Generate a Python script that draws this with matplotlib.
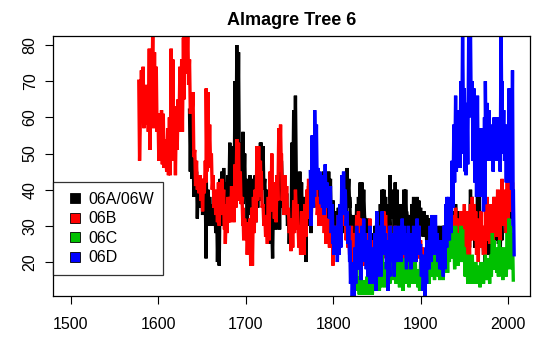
import numpy as np
import matplotlib
matplotlib.use("Agg")
import matplotlib.pyplot as plt
from matplotlib.lines import Line2D

plt.rcParams['font.family'] = ['Liberation Sans', 'DejaVu Sans']

# (year, high, low), ~2 year steps
s06a = [(1636,62,45),(1638,65,43),(1640,55,38),(1642,47,38),(1644,45,32),(1646,43,35),(1648,40,35),
        (1650,42,33),(1652,40,36),(1654,39,21),(1655,46,30),(1657,40,30),(1659,38,33),(1661,36,30),
        (1663,34,32),(1665,38,28),(1667,36,20),(1669,35,19),(1671,43,30),(1673,45,33),(1675,46,39),
        (1676,39,35),(1678,42,31),(1680,44,36),(1682,53,34),(1684,52,40),(1686,52,37),(1688,70,36),
        (1690,80,48),(1692,78,45),(1694,53,40),(1696,48,36),(1697,56,40),(1699,50,38),(1701,41,30),
        (1703,43,35),(1705,44,33),(1707,40,30),(1709,43,30),(1711,44,31),(1713,42,35),(1715,45,37),
        (1717,53,45),(1718,53,42),(1720,52,40),(1722,43,33),(1724,40,30),(1726,37,28),(1728,34,25),
        (1730,30,21),(1732,40,32),(1734,41,29),(1736,44,30),(1738,40,29),(1740,45,35),(1741,48,41),
        (1743,43,35),(1745,40,33),(1747,39,30),(1749,33,25),(1751,32,24),(1753,53,36),(1755,62,40),
        (1757,66,45),(1759,44,34),(1760,38,30),(1762,45,31),(1764,42,30),(1766,36,27),(1768,38,20),
        (1770,38,30),(1772,41,32),(1774,35,28),(1776,45,35),(1778,48,38),(1779,50,38),(1781,44,35),
        (1783,40,30),(1785,42,33),(1787,42,35),(1789,45,36),(1791,44,32),(1793,40,30),(1795,45,30),
        (1797,43,28),(1799,35,25),(1800,37,30),(1802,34,26),(1804,30,24),(1806,35,26),(1808,33,27),
        (1810,36,28),(1812,40,30),(1814,42,32),(1816,46,38),(1818,43,35),(1819,38,30),(1821,33,24),
        (1823,30,24),(1825,33,26),(1827,36,28),(1829,38,33),(1831,42,30),(1833,42,32),(1835,40,33),
        (1837,30,22),(1839,32,25),(1841,30,22),(1842,28,20),(1844,26,19),(1846,28,20),(1848,30,20),
        (1850,34,22),(1852,30,20),(1854,36,26),(1856,40,30),(1858,40,28),(1860,38,30),(1862,35,28),
        (1864,36,30),(1865,44,33),(1867,40,32),(1869,38,28),(1871,42,32),(1873,40,30),(1875,36,28),
        (1877,36,26),(1879,34,28),(1881,40,30),(1883,40,32),(1884,34,28),(1886,33,27),(1888,30,25),
        (1890,36,28),(1892,38,30),(1894,34,28),(1896,38,30),(1898,37,30),(1900,35,28),(1902,33,27),
        (1904,34,28),(1906,32,26),(1907,33,27),(1909,32,26),(1911,32,25),(1913,30,24),(1915,32,25),
        (1917,30,24),(1919,28,22),(1921,30,24),(1923,28,23),(1925,30,24),(1927,30,22),(1929,28,22),
        (1930,30,24),(1932,30,25),(1934,34,26),(1936,34,26),(1938,32,24),(1940,36,26),(1942,34,26),
        (1944,30,24),(1946,30,24),(1948,31,23),(1950,30,22),(1951,29,22),(1953,28,22),(1955,30,24),
        (1957,40,30),(1959,38,28),(1961,34,24),(1963,32,24),(1965,40,28),(1967,38,27),(1969,30,24),
        (1971,28,22),(1973,26,20),(1974,30,22),(1976,33,25),(1978,30,22),(1980,32,25),(1982,36,28),
        (1984,38,28),(1986,34,26),(1988,32,25),(1990,28,22),(1992,34,26),(1993,40,30),(1995,38,30),
        (1997,36,28),(1999,40,30),(2001,46,32),(2003,58,35),(2005,40,30)]

s06b = [(1578,70,48),(1581,73,62),(1583,74,57),(1584,66,60),(1586,69,58),(1588,67,56),(1590,79,51),
        (1592,78,65),(1594,85,57),(1596,78,60),(1598,74,56),(1600,61,48),(1602,61,53),(1604,62,47),
        (1606,61,46),(1607,54,47),(1609,48,45),(1611,57,44),(1613,60,44),(1615,79,53),(1617,76,48),
        (1619,59,44),(1621,63,51),(1623,65,56),(1625,74,57),(1627,76,56),(1629,82,65),(1630,85,75),
        (1632,85,72),(1634,85,69),(1636,76,61),(1638,66,61),(1640,67,49),(1642,51,41),(1644,48,40),
        (1646,43,39),(1648,44,37),(1650,43,34),(1652,43,39),(1654,48,42),(1655,68,45),(1657,67,46),
        (1659,58,48),(1661,50,40),(1663,44,35),(1665,40,33),(1667,39,31),(1669,42,30),(1671,42,33),
        (1673,43,35),(1675,40,29),(1676,36,25),(1678,35,28),(1680,38,31),(1682,38,31),(1684,41,32),
        (1686,37,31),(1688,47,35),(1690,54,37),(1692,53,38),(1694,45,36),(1696,38,30),(1697,35,26),
        (1699,32,28),(1701,31,22),(1703,29,23),(1705,32,19),(1707,35,19),(1709,38,28),(1711,40,31),
        (1713,52,37),(1715,52,40),(1717,48,38),(1718,45,35),(1720,36,30),(1722,33,27),(1724,31,25),
        (1726,38,26),(1728,45,34),(1730,50,37),(1732,42,32),(1734,40,31),(1736,44,37),(1738,57,46),
        (1740,58,45),(1741,50,37),(1743,43,33),(1745,44,35),(1747,41,33),(1749,35,28),(1751,30,23),
        (1753,32,24),(1755,37,28),(1757,40,34),(1759,36,29),(1760,30,24),(1762,30,22),(1764,34,24),
        (1766,31,22),(1768,36,27),(1770,40,32),(1772,43,36),(1774,42,30),(1776,45,35),(1778,55,40),
        (1779,50,38),(1781,42,33),(1783,36,30),(1785,38,31),(1787,37,30),(1789,36,28),(1791,35,25),
        (1793,32,26),(1795,30,24),(1797,36,25),(1799,34,19),(1800,30,22),(1802,28,22),(1804,30,22),
        (1806,33,24),(1808,36,26),(1810,40,30),(1812,38,30),(1814,34,26),(1816,30,24),(1818,29,22),
        (1819,28,20),(1821,30,20),(1823,25,18),(1825,28,20),(1827,33,24),(1829,34,26),(1831,32,24),
        (1833,30,20),(1835,27,19),(1837,26,19),(1839,28,17),(1841,26,16),(1842,32,16),(1844,26,15),
        (1846,24,16),(1848,22,15),(1850,25,16),(1852,28,17),(1854,30,20),(1856,29,21),(1858,34,26),
        (1860,33,26),(1862,28,22),(1864,27,20),(1865,30,22),(1867,26,20),(1869,28,23),(1871,30,24),
        (1873,26,20),(1875,24,18),(1877,25,19),(1879,26,20),(1881,25,19),(1883,27,21),(1884,25,20),
        (1886,28,22),(1888,26,19),(1890,27,20),(1892,25,19),(1894,26,20),(1896,27,21),(1898,30,22),
        (1900,26,19),(1902,24,18),(1904,23,17),(1906,22,18),(1907,23,17),(1909,24,18),(1911,23,18),
        (1913,22,17),(1915,23,18),(1917,24,18),(1919,25,19),(1921,26,20),(1923,25,19),(1925,24,18),
        (1927,26,20),(1929,28,22),(1930,29,22),(1932,30,22),(1934,31,24),(1936,33,25),(1938,30,24),
        (1940,35,25),(1942,32,24),(1944,30,22),(1946,34,22),(1948,32,22),(1950,36,24),(1951,33,24),
        (1953,34,22),(1955,30,22),(1957,36,26),(1959,38,28),(1961,36,26),(1963,34,22),(1965,30,20),
        (1967,32,24),(1969,34,26),(1971,28,22),(1973,30,22),(1974,36,26),(1976,38,26),(1978,34,25),
        (1980,36,28),(1982,34,26),(1984,38,28),(1986,36,27),(1988,40,30),(1990,34,26),(1992,40,30),
        (1993,43,32),(1995,40,30),(1997,38,28),(1999,42,30),(2001,44,34),(2003,48,34),(2005,42,34)]

s06c = [(1825,17,12),(1827,19,12),(1829,15,11),(1831,16,11),(1833,14,11),(1835,15,11),(1837,15,11),
        (1839,16,11),(1841,16,11),(1842,17,11),(1844,15,11),(1846,17,12),(1848,18,12),(1850,20,13),
        (1852,16,12),(1854,19,13),(1856,22,14),(1858,18,13),(1860,20,14),(1862,17,13),(1864,22,14),
        (1865,25,16),(1867,22,15),(1869,24,16),(1871,20,14),(1873,22,15),(1875,19,13),(1877,22,15),
        (1879,17,12),(1881,21,14),(1883,20,14),(1884,23,16),(1886,19,13),(1888,22,15),(1890,20,14),
        (1892,24,17),(1894,20,14),(1896,18,13),(1898,17,12),(1900,20,14),(1902,18,12),(1904,17,12),
        (1906,20,14),(1907,22,15),(1909,20,14),(1911,25,16),(1913,23,17),(1915,20,15),(1917,24,18),
        (1919,22,16),(1921,20,15),(1923,22,16),(1925,21,15),(1927,24,17),(1929,25,18),(1930,24,17),
        (1932,27,20),(1934,28,21),(1936,30,22),(1938,26,18),(1940,30,20),(1942,27,19),(1944,28,20),
        (1946,30,20),(1948,29,20),(1950,24,16),(1951,22,16),(1953,20,14),(1955,22,15),(1957,20,14),
        (1959,22,16),(1961,18,14),(1963,20,15),(1965,19,14),(1967,18,13),(1969,20,15),(1971,18,14),
        (1973,20,15),(1974,22,16),(1976,21,15),(1978,20,14),(1980,22,16),(1982,28,18),(1984,26,18),
        (1986,24,17),(1988,22,16),(1990,26,17),(1992,24,16),(1993,22,15),(1995,24,16),(1997,22,16),
        (1999,28,18),(2001,32,20),(2003,30,18),(2005,28,15)]

s06d = [(1774,45,30),(1776,55,35),(1778,50,38),(1779,62,42),(1781,58,40),(1783,46,40),(1785,45,36),
        (1787,44,35),(1789,42,33),(1791,47,37),(1793,42,35),(1795,40,32),(1797,41,28),(1799,36,25),
        (1800,30,22),(1802,26,22),(1804,30,20),(1806,33,22),(1808,36,24),(1810,44,34),(1812,45,33),
        (1814,40,30),(1816,34,25),(1818,30,20),(1819,26,14),(1821,20,10),(1823,18,10),(1825,24,14),
        (1827,30,18),(1829,28,18),(1831,25,15),(1833,30,20),(1835,32,22),(1837,28,18),(1839,24,16),
        (1841,26,14),(1842,30,16),(1844,24,14),(1846,22,15),(1848,28,12),(1850,34,16),(1852,30,20),
        (1854,26,16),(1856,34,24),(1858,30,22),(1860,28,18),(1862,26,12),(1864,24,16),(1865,30,20),
        (1867,28,20),(1869,22,16),(1871,30,20),(1873,28,20),(1875,30,22),(1877,28,20),(1879,32,22),
        (1881,30,22),(1883,26,18),(1884,28,20),(1886,30,22),(1888,24,18),(1890,28,20),(1892,30,22),
        (1894,28,20),(1896,32,24),(1898,30,22),(1900,25,16),(1902,22,12),(1904,18,10),(1906,24,14),
        (1907,26,18),(1909,25,18),(1911,30,20),(1913,33,24),(1915,30,22),(1917,33,22),(1919,28,20),
        (1921,24,18),(1923,26,18),(1925,25,16),(1927,30,18),(1929,36,24),(1930,38,26),(1932,38,26),
        (1934,36,28),(1936,48,35),(1938,58,42),(1940,66,45),(1942,62,48),(1944,57,46),(1946,70,50),
        (1948,85,60),(1950,68,45),(1951,58,44),(1953,64,47),(1955,85,62),(1957,85,60),(1959,70,48),
        (1961,68,42),(1963,64,38),(1965,66,42),(1967,52,38),(1969,57,40),(1971,48,34),(1973,60,36),
        (1974,70,48),(1976,64,48),(1978,62,50),(1980,58,48),(1982,55,45),(1984,60,50),(1986,58,48),
        (1988,60,50),(1990,55,45),(1992,85,55),(1993,70,50),(1995,62,48),(1997,55,42),(1999,58,42),
        (2001,68,48),(2003,65,40),(2005,73,30),(2006,40,22)]

labels = ["06A/06W", "06B", "06C", "06D"]
colors = ["black", "red", "#00c000", "blue"]
x_ticks = [1500, 1600, 1700, 1800, 1900, 2000]
y_ticks = [20, 30, 40, 50, 60, 70, 80]


def zigzag(rows):
    a = np.array(rows, dtype=float)
    x = np.column_stack([a[:, 0], a[:, 0] + 0.9]).ravel()
    y = np.column_stack([a[:, 1], a[:, 2]]).ravel()
    return x, y


fig = plt.figure(figsize=(5.48, 3.5), dpi=100)
ax = fig.add_axes([53/548, 1 - 296/350, 477/548, 260/350])

for rows, c in zip([s06a, s06b, s06c, s06d], colors):
    x, y = zigzag(rows)
    ax.plot(x, y, color=c, lw=2.4, solid_joinstyle='miter')

ax.set_xlim(1480, 2025)
ax.set_ylim(10.6, 82.5)
ax.set_xticks(x_ticks)
ax.set_yticks(y_ticks)
ax.tick_params(direction='out', length=6, width=0.8, labelsize=11.5)
ax.tick_params(axis='x', pad=9)
ax.tick_params(axis='y', pad=5)
for lab in ax.get_yticklabels():
    lab.set_rotation(90)
    lab.set_va('center')
for sp in ax.spines.values():
    sp.set_linewidth(0.9)

ax.set_title("Almagre Tree 6", fontsize=13, fontweight='bold', pad=8)
# the y label sits mostly off the canvas, as in the reference
ax.set_ylabel("Ring width [0.01 mm]", fontsize=11.5)
ax.yaxis.set_label_coords(-0.108, 0.5)

handles = [Line2D([], [], ls='none', marker='s', markersize=7.2, markerfacecolor=c,
                  markeredgecolor='black', markeredgewidth=0.6) for c in colors]
leg = ax.legend(handles, labels, loc='lower left', bbox_to_anchor=(0, 0.081),
                borderaxespad=0, fontsize=11.5, frameon=True, fancybox=False,
                borderpad=0.6, handlelength=1.6, handletextpad=0.0, labelspacing=0.28)
leg.get_frame().set_edgecolor('black')
leg.get_frame().set_linewidth(0.9)

fig.savefig("out.png", dpi=100)
